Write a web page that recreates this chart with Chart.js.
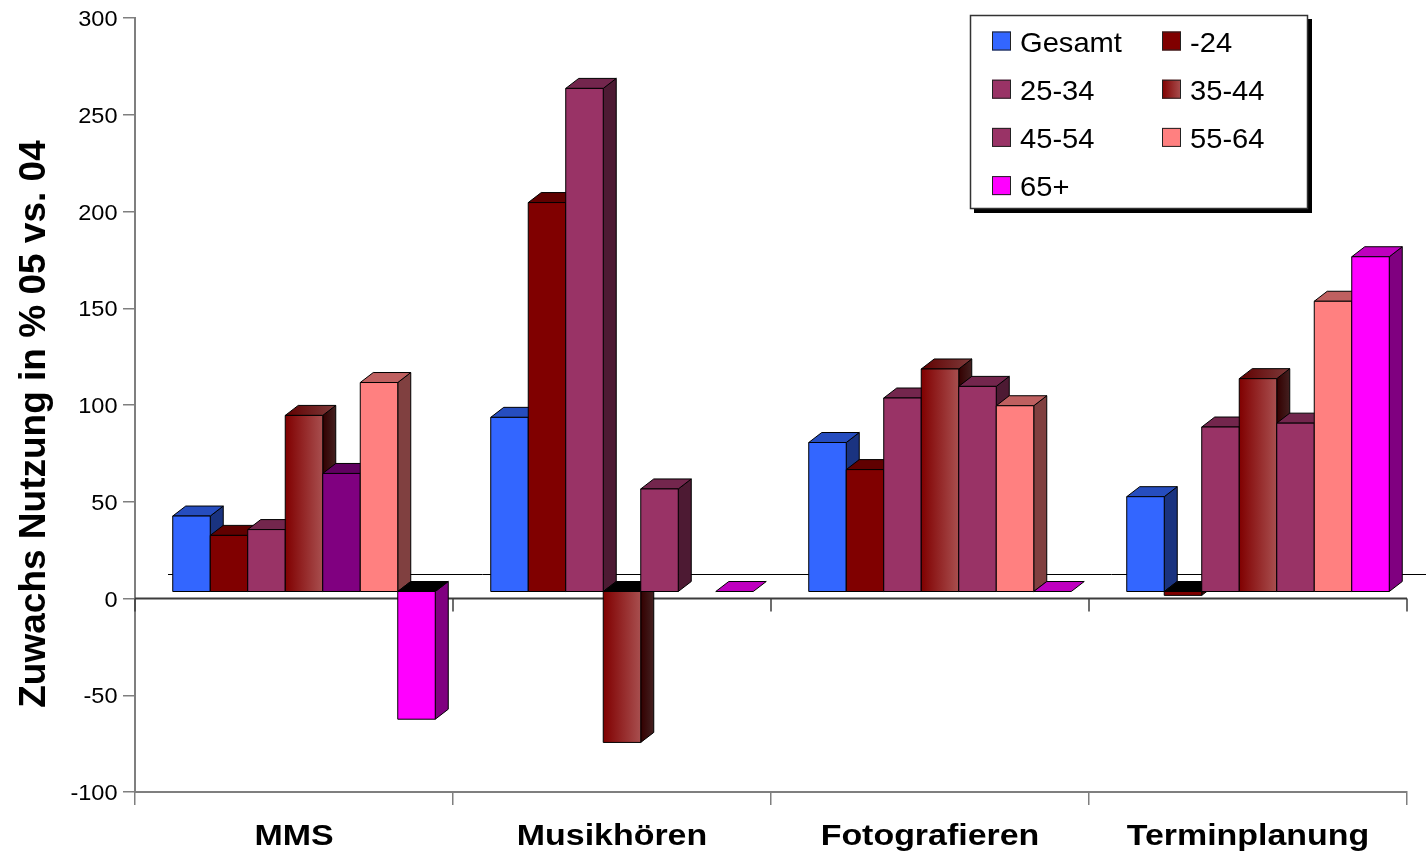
<!DOCTYPE html>
<html>
<head>
<meta charset="utf-8">
<title>Zuwachs Nutzung 05 vs. 04</title>
<script src="https://cdn.jsdelivr.net/npm/chart.js@4/dist/chart.umd.min.js"></script>
<style>
  html, body { margin: 0; padding: 0; background: #ffffff; }
  canvas { display: block; }
</style>
</head>
<body>
<canvas id="chart" width="1426" height="854"></canvas>
<script>
// ---- data -------------------------------------------------------------
const categories = ['MMS', 'Musikhören', 'Fotografieren', 'Terminplanung'];
const seriesLabels = ['Gesamt', '-24', '25-34', '35-44', '45-54', '55-64', '65+'];

const gesamt   = [39, 90, 77, 49];
const age24    = [29, 201, 63, -2];
const age25_34 = [32, 260, 100, 85];
const age35_44 = [91, -78, 115, 110];
const age45_54 = [61, 53, 106, 87];
const age55_64 = [108, null, 96, 150];
const age65    = [-66, 0, 0, 173];

const yTickValues = [-100, -50, 0, 50, 100, 150, 200, 250, 300];
const yTitle = 'Zuwachs Nutzung in % 05 vs. 04';

// ---- styles -----------------------------------------------------------
const FONT = '"Liberation Sans", Arial, Helvetica, sans-serif';
const AXIS_GREY = '#7f7f7f';
// front colours per series; a pair means a left-to-right gradient
const seriesFill = ['#3366FF', '#800000', '#993366', ['#800000', '#A84F4F'], '#993366', '#FF8080', '#FF00FF'];
// single bars with their own colour: [series, category, colour]
const pointFill = [[4, 0, '#800080']];
const TOP_SHADE = 0.75;
const SIDE_SHADE = 0.5;
const GRAD_SIDE_SHADE = 0.4;

// 3-D projection of the columns
const DEPTH_X = 13;
const DEPTH_Y = 10;
const SHIFT_X = 10;
const LIFT = 7;
const FLOOR_RISE = 24.5;
const FLOOR_INSET = 33;

const seriesData = [gesamt, age24, age25_34, age35_44, age45_54, age55_64, age65];

function shade(hex, f) {
  const n = parseInt(hex.slice(1), 16);
  const r = Math.round(((n >> 16) & 255) * f);
  const g = Math.round(((n >> 8) & 255) * f);
  const b = Math.round((n & 255) * f);
  return 'rgb(' + r + ',' + g + ',' + b + ')';
}

function fillFor(ctx, spec, x0, x1, f) {
  if (Array.isArray(spec)) {
    const g = ctx.createLinearGradient(x0, 0, x1, 0);
    g.addColorStop(0, shade(spec[0], f));
    g.addColorStop(1, shade(spec[1], f));
    return g;
  }
  return shade(spec, f);
}

function baseColor(s, c) {
  for (const [ps, pc, col] of pointFill) if (ps === s && pc === c) return col;
  return seriesFill[s];
}

function poly(ctx, pts, fill) {
  ctx.beginPath();
  ctx.moveTo(pts[0][0], pts[0][1]);
  for (let k = 1; k < pts.length; k++) ctx.lineTo(pts[k][0], pts[k][1]);
  ctx.closePath();
  ctx.fillStyle = fill;
  ctx.fill();
  ctx.stroke();
}

function stretchedText(ctx, str, x, y, font, align, sx) {
  ctx.save();
  ctx.translate(x, y);
  ctx.scale(sx, 1);
  ctx.font = font;
  ctx.textAlign = align;
  ctx.textBaseline = 'alphabetic';
  ctx.fillStyle = '#000';
  ctx.fillText(str, 0, 0);
  ctx.restore();
}

function barGeometry(chart, s, c) {
  const v = seriesData[s][c];
  if (v === null || v === undefined) return null;
  const el = chart.getDatasetMeta(s).data[c];
  const y = chart.scales.y;
  const L = el.x - el.width / 2 + SHIFT_X;
  const R = L + el.width;
  const yb = y.getPixelForValue(0) - LIFT;
  const yt = y.getPixelForValue(v) - LIFT;
  return { v, L, R, yb, yt };
}

const bars3d = {
  id: 'bars3d',
  beforeDatasetsDraw(chart) {
    const { ctx, chartArea } = chart;
    const x = chart.scales.x, y = chart.scales.y;
    const y0 = y.getPixelForValue(0);
    ctx.save();
    // back edge of the floor
    const fy = Math.round(y0 - FLOOR_RISE) + 0.5;
    ctx.strokeStyle = '#000';
    ctx.lineWidth = 1;
    ctx.beginPath();
    ctx.moveTo(chartArea.left + FLOOR_INSET, fy);
    ctx.lineTo(chart.width, fy);
    ctx.stroke();
    // zero line with category ticks
    ctx.strokeStyle = '#3c3c3c';
    ctx.lineWidth = 2;
    ctx.beginPath();
    ctx.moveTo(chartArea.left, y0);
    ctx.lineTo(chartArea.right, y0);
    ctx.stroke();
    const cw = (chartArea.right - chartArea.left) / categories.length;
    ctx.lineWidth = 1.5;
    for (let i = 0; i <= categories.length; i++) {
      const bx = Math.round(x.getPixelForValue(0) - cw / 2 + i * cw);
      ctx.beginPath();
      ctx.moveTo(bx, y0);
      ctx.lineTo(bx, y0 + 13);
      ctx.stroke();
    }
    ctx.restore();
  },
  afterDatasetsDraw(chart) {
    const ctx = chart.ctx;
    ctx.save();
    ctx.strokeStyle = '#000';
    ctx.lineWidth = 1;
    ctx.lineJoin = 'round';
    // hidden faces first: sides and tops, in drawing order
    for (let c = 0; c < categories.length; c++) {
      for (let s = 0; s < seriesData.length; s++) {
        const g = barGeometry(chart, s, c);
        if (!g) continue;
        const col = baseColor(s, c);
        const grad = Array.isArray(col);
        const { v, L, R, yb, yt } = g;
        if (v > 0) {
          poly(ctx, [[R, yt], [R + DEPTH_X, yt - DEPTH_Y], [R + DEPTH_X, yb - DEPTH_Y], [R, yb]],
            fillFor(ctx, col, R, R + DEPTH_X, grad ? GRAD_SIDE_SHADE : SIDE_SHADE));
          poly(ctx, [[L, yt], [R, yt], [R + DEPTH_X, yt - DEPTH_Y], [L + DEPTH_X, yt - DEPTH_Y]],
            fillFor(ctx, col, L, R + DEPTH_X, TOP_SHADE));
        } else if (v < 0) {
          poly(ctx, [[R, yb], [R + DEPTH_X, yb - DEPTH_Y], [R + DEPTH_X, yt - DEPTH_Y], [R, yt]],
            fillFor(ctx, col, R, R + DEPTH_X, grad ? GRAD_SIDE_SHADE : SIDE_SHADE));
          poly(ctx, [[L, yb], [R, yb], [R + DEPTH_X, yb - DEPTH_Y], [L + DEPTH_X, yb - DEPTH_Y]], '#000');
        } else {
          poly(ctx, [[L, yb], [R, yb], [R + DEPTH_X, yb - DEPTH_Y], [L + DEPTH_X, yb - DEPTH_Y]],
            fillFor(ctx, col, L, R + DEPTH_X, TOP_SHADE));
        }
      }
    }
    // front faces
    for (let c = 0; c < categories.length; c++) {
      for (let s = 0; s < seriesData.length; s++) {
        const g = barGeometry(chart, s, c);
        if (!g || g.v === 0) continue;
        const col = baseColor(s, c);
        const { L, R, yb, yt } = g;
        const top = Math.min(yb, yt), h = Math.abs(yb - yt);
        ctx.fillStyle = fillFor(ctx, col, L, R, 1);
        ctx.fillRect(L, top, R - L, h);
        ctx.strokeRect(L, top, R - L, h);
      }
    }
    ctx.restore();
  },
  afterDraw(chart) {
    const ctx = chart.ctx;
    const { chartArea } = chart;
    const x = chart.scales.x, y = chart.scales.y;

    // value axis labels
    for (const t of y.ticks) {
      stretchedText(ctx, String(t.value), chartArea.left - 17.5, y.getPixelForValue(t.value) + 8,
        '22px ' + FONT, 'right', 1.07);
    }
    // category labels
    categories.forEach((cat, i) => {
      stretchedText(ctx, cat, x.getPixelForValue(i), chartArea.bottom + 53, 'bold 29px ' + FONT, 'center', 1.17);
    });
    // value axis title
    ctx.save();
    ctx.translate(45, (chartArea.top + chartArea.bottom) / 2 + 19);
    ctx.rotate(-Math.PI / 2);
    ctx.font = 'bold 37px ' + FONT;
    ctx.textAlign = 'center';
    ctx.textBaseline = 'alphabetic';
    ctx.fillStyle = '#000';
    ctx.fillText(yTitle, 0, 0);
    ctx.restore();

    // legend
    const LX = 970, LY = 15, LW = 338, LH = 194, SH = 4;
    ctx.save();
    ctx.fillStyle = '#000';
    ctx.fillRect(LX + SH, LY + SH, LW, LH);
    ctx.fillStyle = '#fff';
    ctx.fillRect(LX, LY, LW, LH);
    ctx.strokeStyle = '#333';
    ctx.lineWidth = 1.5;
    ctx.strokeRect(LX + 0.5, LY + 0.5, LW - 1, LH - 1);
    const colX = [992, 1162];
    const row0 = 41, rowStep = 48.2, box = 19;
    chart.data.datasets.forEach((ds, k) => {
      const cx = colX[k % 2];
      const cy = row0 + Math.floor(k / 2) * rowStep;
      ctx.fillStyle = fillFor(ctx, seriesFill[k], cx, cx + box, 1);
      ctx.fillRect(cx, cy - box / 2, box, box);
      ctx.strokeStyle = '#222';
      ctx.lineWidth = 1;
      ctx.strokeRect(cx + 0.5, cy - box / 2 + 0.5, box - 1, box - 1);
      stretchedText(ctx, ds.label, cx + 28, cy + 10.5, '28px ' + FONT, 'left', 1.04);
    });
    ctx.restore();
  }
};

new Chart(document.getElementById('chart'), {
  type: 'bar',
  data: {
    labels: categories,
    datasets: seriesLabels.map((label, k) => ({
      label,
      data: seriesData[k],
      backgroundColor: 'rgba(0,0,0,0)',
      borderWidth: 0
    }))
  },
  options: {
    responsive: false,
    devicePixelRatio: 1,
    animation: false,
    events: [],
    categoryPercentage: 0.8255,
    barPercentage: 1,
    layout: { padding: { top: 18, right: 19, left: 0, bottom: 0 } },
    plugins: { legend: { display: false }, tooltip: { enabled: false } },
    scales: {
      x: {
        grid: { offset: true, drawOnChartArea: false, drawTicks: true, tickLength: 13, color: AXIS_GREY, lineWidth: 1.5 },
        border: { display: true, color: AXIS_GREY, width: 2 },
        ticks: { display: false },
        afterFit(s) { s.height = 62; }
      },
      y: {
        min: -100,
        max: 300,
        afterBuildTicks(s) { s.ticks = yTickValues.map(v => ({ value: v })); },
        grid: { drawOnChartArea: false, drawTicks: true, tickLength: 12, color: AXIS_GREY, lineWidth: 1.5 },
        border: { display: true, color: AXIS_GREY, width: 2 },
        ticks: { display: false },
        afterFit(s) { s.width = 135; }
      }
    }
  },
  plugins: [bars3d]
});
</script>
</body>
</html>
